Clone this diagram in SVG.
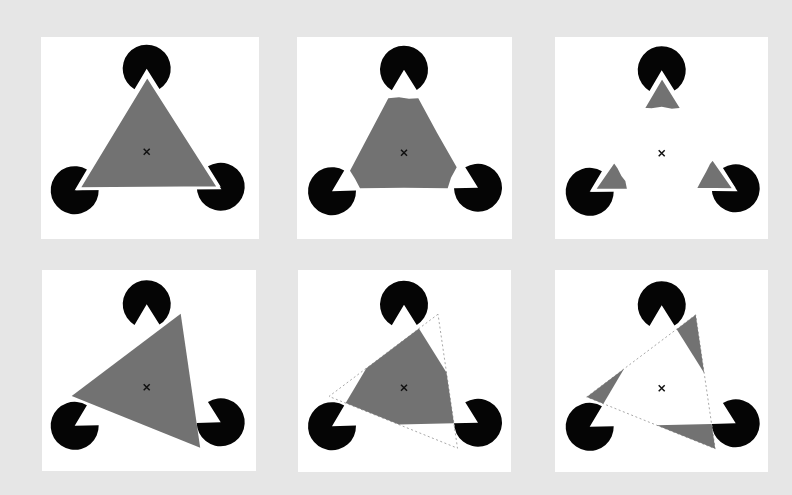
<svg xmlns="http://www.w3.org/2000/svg" xmlns:xlink="http://www.w3.org/1999/xlink" width="792" height="495" viewBox="0 0 792 495">
<style>
.bg{fill:#e6e6e6}
.panel{fill:#ffffff}
.pac{fill:#050505}
.gray{fill:#727272}
.gw{fill:#727272;stroke:#ffffff;stroke-width:3;stroke-linejoin:miter}
.dash{fill:none;stroke:#a8a8a8;stroke-width:1;stroke-dasharray:2 2.5}
.mark{fill:none;stroke:#111;stroke-width:1.5}
</style>
<defs>
<g id="pacmen" class="pac">
<path d="M0,-83 L12.75,-62.7 A24,24 0 1 0 -12.2,-62.4 Z"/>
<path d="M-72,38.5 L-59.76,17.86 A24,24 0 1 0 -48,37.92 Z"/>
<path d="M74,35 L50,35.58 A24,24 0 1 0 61.25,14.67 Z"/>
</g>
<path id="mark" class="mark" d="M-3,-3 L3,3 M-3,3 L3,-3"/>
<polygon id="rotTri" points="34,-73.5 -75,8.7 53.5,60.5"/>
</defs>
<rect class="bg" x="0" y="0" width="792" height="495"/>

<g id="panel1">
<rect class="panel" x="41" y="37" width="218" height="202"/>
<g transform="translate(146.7,151.7)">
<use xlink:href="#pacmen" href="#pacmen"/>
<polygon class="gw" points="0.5,-76 -68,37 72,36"/>
<use xlink:href="#mark" href="#mark"/>
</g>
</g>

<g id="panel2">
<rect class="panel" x="297" y="37" width="215" height="202"/>
<g transform="translate(404,152.7)">
<use xlink:href="#pacmen" href="#pacmen"/>
<polygon class="gray" points="-15.7,-54.4 -5,-55.5 5,-54 14.3,-54.4 33,-20 52.7,14.6 47,25 43.7,35.6 0,35 -44,35.6 -49,26 -54,18 -35,-18"/>
<use xlink:href="#mark" href="#mark"/>
</g>
</g>

<g id="panel3">
<rect class="panel" x="555" y="37" width="213" height="202"/>
<g transform="translate(661.7,153.3)">
<use xlink:href="#pacmen" href="#pacmen"/>
<polygon class="gw" points="0.3,-76.5 20.5,-44 10,-43 0,-45 -10,-43.5 -18.8,-44"/>
<polygon class="gw" points="-68,37 -47.5,7.5 -43,14 -39,22 -35,27 -33,36.8"/>
<polygon class="gw" points="73,36.5 33.3,36 38,27 43,18 47,10 51,5"/>
<use xlink:href="#mark" href="#mark"/>
</g>
</g>

<g id="panel4">
<rect class="panel" x="42" y="270" width="214" height="201"/>
<g transform="translate(146.7,387.3)">
<use xlink:href="#pacmen" href="#pacmen"/>
<use xlink:href="#rotTri" href="#rotTri" class="gray"/>
<use xlink:href="#mark" href="#mark"/>
</g>
</g>

<g id="panel5">
<rect class="panel" x="298" y="270" width="213" height="202"/>
<g transform="translate(404,387.7)">
<use xlink:href="#pacmen" href="#pacmen"/>
<use xlink:href="#rotTri" href="#rotTri" class="dash"/>
<polygon class="gray" points="14.96,-59.14 42.47,-15.26 49.87,35.58 -5.06,36.9 -58.32,15.42 -37.65,-19.47"/>
<use xlink:href="#mark" href="#mark"/>
</g>
</g>

<g id="panel6">
<rect class="panel" x="555" y="270" width="213" height="202"/>
<g transform="translate(661.7,388.3)">
<use xlink:href="#pacmen" href="#pacmen"/>
<use xlink:href="#rotTri" href="#rotTri" class="dash"/>
<polygon class="gray" points="34,-73.5 14.96,-59.14 42.47,-15.26"/>
<polygon class="gray" points="-75,8.7 -37.65,-19.47 -58.32,15.42"/>
<polygon class="gray" points="53.5,60.5 -5.06,36.9 49.87,35.58"/>
<use xlink:href="#mark" href="#mark"/>
</g>
</g>
</svg>
